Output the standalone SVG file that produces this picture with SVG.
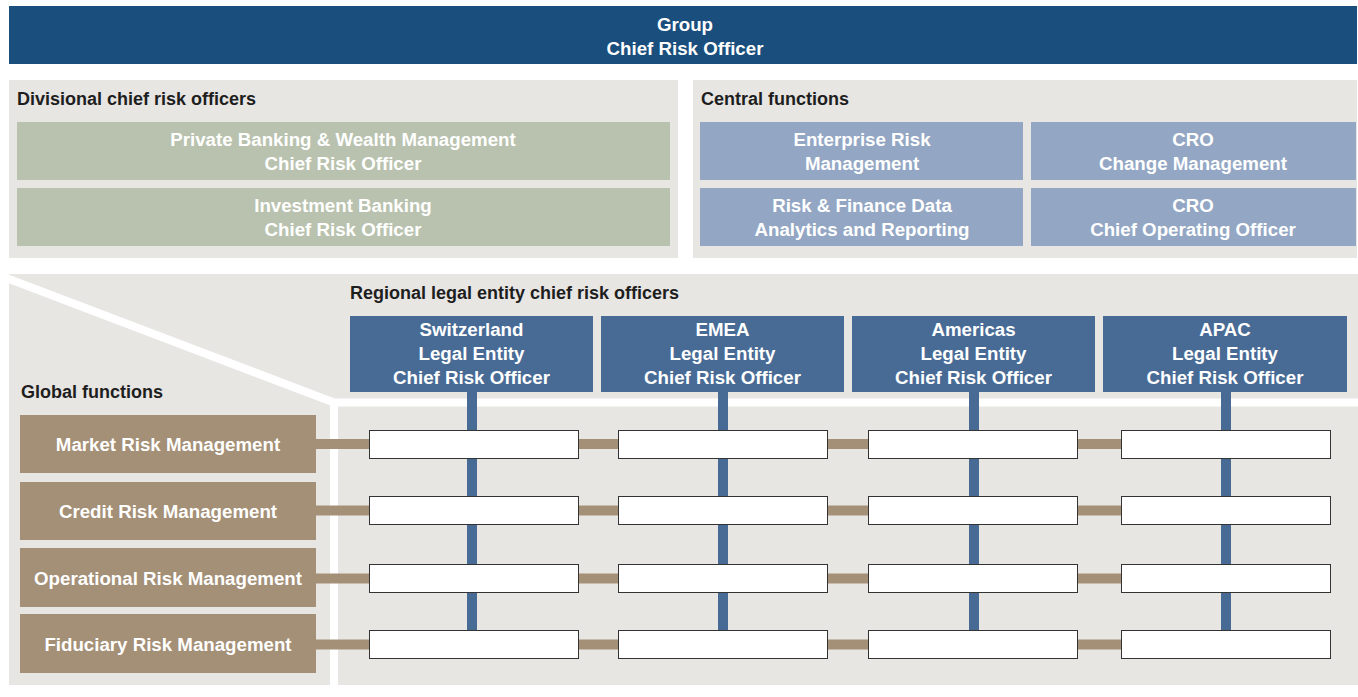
<svg xmlns="http://www.w3.org/2000/svg" width="1358" height="697" viewBox="0 0 1358 697">
<defs>
<style>
text{font-family:"Liberation Sans",Arial,sans-serif;font-weight:bold;font-size:18px}
.w{fill:#ffffff;text-anchor:middle;font-size:18.7px}
.h{fill:#1e1e1e}
.panel{fill:#e8e6e3}
.top{fill:#1a4e7c}
.div{fill:#b9c2ae}
.cen{fill:#93a7c4}
.reg{fill:#486b96}
.glob{fill:#a48f77}
.cell{fill:#ffffff;stroke:#333333;stroke-width:1}
.tan{stroke:#a48f77;stroke-width:10}
.blue{stroke:#486b96;stroke-width:10}
.sep{stroke:#ffffff;stroke-width:8;fill:none}
</style>
<clipPath id="lowclip"><rect x="9" y="274" width="1349" height="411"/></clipPath>
</defs>
<rect width="1358" height="697" fill="#ffffff"/>

<g id="group-cro">
<rect class="top" x="9" y="6" width="1348" height="58"/>
<text class="w" x="685" y="30.5">Group</text>
<text class="w" x="685" y="54.5">Chief Risk Officer</text>
</g>

<g id="divisional">
<rect class="panel" x="9" y="80" width="669" height="178"/>
<text class="h" x="17" y="105">Divisional chief risk officers</text>
</g>
<g id="pbwm">
<rect class="div" x="17" y="122" width="653" height="58"/>
<text class="w" x="343" y="146">Private Banking &amp; Wealth Management</text>
<text class="w" x="343" y="170">Chief Risk Officer</text>
</g>
<g id="ib">
<rect class="div" x="17" y="188" width="653" height="58"/>
<text class="w" x="343" y="212">Investment Banking</text>
<text class="w" x="343" y="236">Chief Risk Officer</text>
</g>

<g id="central">
<rect class="panel" x="693" y="80" width="664" height="178"/>
<text class="h" x="701" y="105">Central functions</text>
</g>
<g id="erm">
<rect class="cen" x="700" y="122" width="323" height="58"/>
<text class="w" x="862" y="146">Enterprise Risk</text>
<text class="w" x="862" y="170">Management</text>
</g>
<g id="cro-change">
<rect class="cen" x="1031" y="122" width="325" height="58"/>
<text class="w" x="1193" y="146">CRO</text>
<text class="w" x="1193" y="170">Change Management</text>
</g>
<g id="rfdar">
<rect class="cen" x="700" y="188" width="323" height="58"/>
<text class="w" x="862" y="212">Risk &amp; Finance Data</text>
<text class="w" x="862" y="236">Analytics and Reporting</text>
</g>
<g id="cro-coo">
<rect class="cen" x="1031" y="188" width="325" height="58"/>
<text class="w" x="1193" y="212">CRO</text>
<text class="w" x="1193" y="236">Chief Operating Officer</text>
</g>

<g id="lower-panel">
<rect class="panel" x="9" y="274" width="1349" height="411"/>
<g clip-path="url(#lowclip)">
<polyline class="sep" points="0,275.6 334,402.5 1358,402.5"/>
<line class="sep" x1="334" y1="402" x2="334" y2="690"/>
</g>
<text class="h" x="350" y="299">Regional legal entity chief risk officers</text>
<text class="h" x="21" y="398">Global functions</text>
</g>

<g id="connectors">
<line class="tan" x1="316" y1="444" x2="1121" y2="444"/>
<line class="tan" x1="316" y1="510.5" x2="1121" y2="510.5"/>
<line class="tan" x1="316" y1="578.5" x2="1121" y2="578.5"/>
<line class="tan" x1="316" y1="644.5" x2="1121" y2="644.5"/>
<line class="blue" x1="472" y1="391" x2="472" y2="630"/>
<line class="blue" x1="723" y1="391" x2="723" y2="630"/>
<line class="blue" x1="974" y1="391" x2="974" y2="630"/>
<line class="blue" x1="1226" y1="391" x2="1226" y2="630"/>
</g>

<g id="switzerland">
<rect class="reg" x="350" y="316" width="243" height="76"/>
<text class="w" x="471.5" y="336">Switzerland</text>
<text class="w" x="471.5" y="360">Legal Entity</text>
<text class="w" x="471.5" y="384">Chief Risk Officer</text>
</g>
<g id="emea">
<rect class="reg" x="601" y="316" width="243" height="76"/>
<text class="w" x="722.5" y="336">EMEA</text>
<text class="w" x="722.5" y="360">Legal Entity</text>
<text class="w" x="722.5" y="384">Chief Risk Officer</text>
</g>
<g id="americas">
<rect class="reg" x="852" y="316" width="243" height="76"/>
<text class="w" x="973.5" y="336">Americas</text>
<text class="w" x="973.5" y="360">Legal Entity</text>
<text class="w" x="973.5" y="384">Chief Risk Officer</text>
</g>
<g id="apac">
<rect class="reg" x="1103" y="316" width="244" height="76"/>
<text class="w" x="1225" y="336">APAC</text>
<text class="w" x="1225" y="360">Legal Entity</text>
<text class="w" x="1225" y="384">Chief Risk Officer</text>
</g>

<g id="market-risk">
<rect class="glob" x="20" y="415" width="296" height="58"/>
<text class="w" x="168" y="451">Market Risk Management</text>
</g>
<g id="credit-risk">
<rect class="glob" x="20" y="482" width="296" height="58"/>
<text class="w" x="168" y="518">Credit Risk Management</text>
</g>
<g id="operational-risk">
<rect class="glob" x="20" y="548" width="296" height="59"/>
<text class="w" x="168" y="584.5">Operational Risk Management</text>
</g>
<g id="fiduciary-risk">
<rect class="glob" x="20" y="614" width="296" height="59"/>
<text class="w" x="168" y="650.5">Fiduciary Risk Management</text>
</g>

<g id="cells">
<rect class="cell" x="369.5" y="430.5" width="209" height="28"/>
<rect class="cell" x="618.5" y="430.5" width="209" height="28"/>
<rect class="cell" x="868.5" y="430.5" width="209" height="28"/>
<rect class="cell" x="1121.5" y="430.5" width="209" height="28"/>
<rect class="cell" x="369.5" y="496.5" width="209" height="28"/>
<rect class="cell" x="618.5" y="496.5" width="209" height="28"/>
<rect class="cell" x="868.5" y="496.5" width="209" height="28"/>
<rect class="cell" x="1121.5" y="496.5" width="209" height="28"/>
<rect class="cell" x="369.5" y="564.5" width="209" height="28"/>
<rect class="cell" x="618.5" y="564.5" width="209" height="28"/>
<rect class="cell" x="868.5" y="564.5" width="209" height="28"/>
<rect class="cell" x="1121.5" y="564.5" width="209" height="28"/>
<rect class="cell" x="369.5" y="630.5" width="209" height="28"/>
<rect class="cell" x="618.5" y="630.5" width="209" height="28"/>
<rect class="cell" x="868.5" y="630.5" width="209" height="28"/>
<rect class="cell" x="1121.5" y="630.5" width="209" height="28"/>
</g>
</svg>
